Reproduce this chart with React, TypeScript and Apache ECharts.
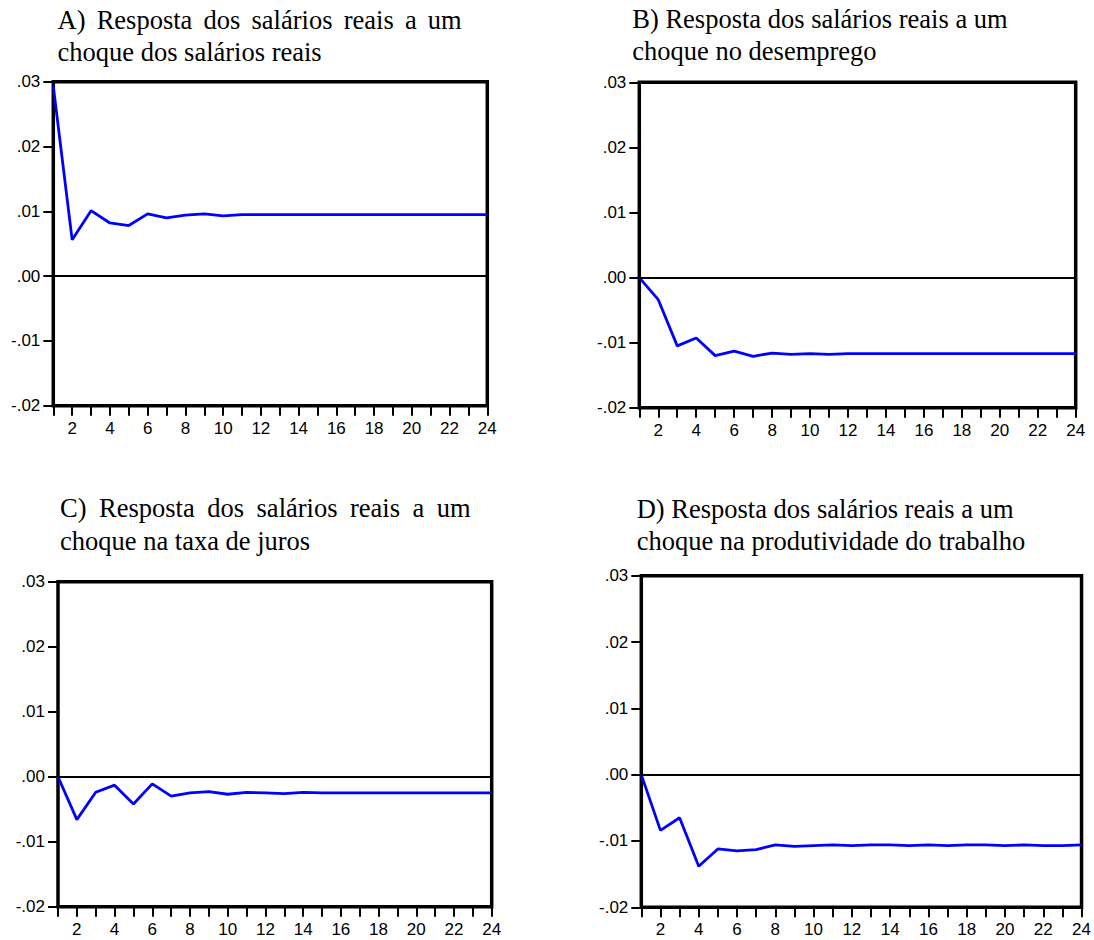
import React, { useEffect, useRef } from "react";
import * as echarts from "echarts";

const periods = [1, 2, 3, 4, 5, 6, 7, 8, 9, 10, 11, 12, 13, 14, 15, 16, 17, 18, 19, 20, 21, 22, 23, 24];

const respToWage = [
  0.0293, 0.0056, 0.0101, 0.0082, 0.0078, 0.0096, 0.009, 0.0094, 0.0096, 0.0093, 0.0095, 0.0095,
  0.0095, 0.0095, 0.0095, 0.0095, 0.0095, 0.0095, 0.0095, 0.0095, 0.0095, 0.0095, 0.0095, 0.0095,
];
const respToUnemployment = [
  0, -0.0034, -0.0105, -0.0093, -0.012, -0.0113, -0.0121, -0.0116, -0.0118, -0.0117, -0.0118, -0.0117,
  -0.0117, -0.0117, -0.0117, -0.0117, -0.0117, -0.0117, -0.0117, -0.0117, -0.0117, -0.0117, -0.0117, -0.0117,
];
const respToInterest = [
  0, -0.0066, -0.0024, -0.0013, -0.0042, -0.0011, -0.003, -0.0025, -0.0023, -0.0027, -0.0024, -0.0025,
  -0.0026, -0.0024, -0.0025, -0.0025, -0.0025, -0.0025, -0.0025, -0.0025, -0.0025, -0.0025, -0.0025, -0.0025,
];
const respToProductivity = [
  0, -0.0084, -0.0065, -0.0138, -0.0112, -0.0115, -0.0113, -0.0106, -0.0108, -0.0107, -0.0106, -0.0107,
  -0.0106, -0.0106, -0.0107, -0.0106, -0.0107, -0.0106, -0.0106, -0.0107, -0.0106, -0.0107, -0.0107, -0.0106,
];

const yMin = -0.02;
const yMax = 0.03;
const yStep = 0.01;

const titleLines = [
  ["A) Resposta dos salários reais a um", "choque dos salários reais"],
  ["B) Resposta dos salários reais a um", "choque no desemprego"],
  ["C) Resposta dos salários reais a um", "choque na taxa de juros"],
  ["D) Resposta dos salários reais a um", "choque na produtividade do trabalho"],
];

const seriesValues = [respToWage, respToUnemployment, respToInterest, respToProductivity];

// layout (pixels)
const panels = [
  { left: 53.3, top: 81.7, width: 434, height: 324, tx: 57.5, tEnd: 461.7, ty1: 19.5, ty2: 52, justify: true },
  { left: 639.3, top: 82.3, width: 436.4, height: 325.4, tx: 632.3, tEnd: 0, ty1: 18.5, ty2: 50.5, justify: false },
  { left: 58, top: 581.7, width: 433.7, height: 325, tx: 60, tEnd: 470.7, ty1: 508, ty2: 540.5, justify: true },
  { left: 641.3, top: 575.7, width: 441.4, height: 331.6, tx: 636.7, tEnd: 0, ty1: 508.5, ty2: 541, justify: false },
];

const TITLE_FONT = '26.5px "Liberation Serif"';
const AXIS_FONT = "Liberation Sans";

function fmtY(v: number): string {
  if (Math.abs(v) < 1e-9) return ".00";
  const s = v.toFixed(2);
  return s.replace("0.", ".");
}

export default function App() {
  const ref = useRef<HTMLDivElement>(null);
  useEffect(() => {
    if (!ref.current) return;
    const chart = echarts.init(ref.current, null, { renderer: "svg" });
    const canvas = document.createElement("canvas");
    const ctx = canvas.getContext("2d")!;
    ctx.font = TITLE_FONT;

    const graphics: any[] = [];
    titleLines.forEach((lines, i) => {
      const p = panels[i];
      const textStyle = { font: TITLE_FONT, fill: "#000", verticalAlign: "middle", align: "left" };
      if (p.justify) {
        const words = lines[0].split(" ");
        const widths = words.map((w) => ctx.measureText(w).width);
        const total = widths.reduce((a, b) => a + b, 0);
        const gap = (p.tEnd - p.tx - total) / (words.length - 1);
        let x = p.tx;
        words.forEach((w, k) => {
          graphics.push({ type: "text", x, y: p.ty1, style: { ...textStyle, text: w } });
          x += widths[k] + gap;
        });
      } else {
        graphics.push({ type: "text", x: p.tx, y: p.ty1, style: { ...textStyle, text: lines[0] } });
      }
      graphics.push({ type: "text", x: p.tx, y: p.ty2, style: { ...textStyle, text: lines[1] } });
    });

    const option: any = {
      animation: false,
      backgroundColor: "#fff",
      grid: panels.map((p) => ({
        left: p.left,
        top: p.top,
        width: p.width,
        height: p.height,
        show: true,
        borderColor: "#000",
        borderWidth: 3.5,
        backgroundColor: "transparent",
        containLabel: false,
      })),
      xAxis: panels.map((_, i) => ({
        type: "value",
        gridIndex: i,
        min: 1,
        max: 24,
        interval: 1,
        axisLine: { show: false, onZero: false },
        splitLine: { show: false },
        axisTick: { show: true, length: 10, inside: false, lineStyle: { color: "#000", width: 2 } },
        axisLabel: {
          margin: 14,
          color: "#000",
          fontFamily: AXIS_FONT,
          fontSize: 17,
          showMinLabel: true,
          showMaxLabel: true,
          formatter: (v: number) => (Math.round(v) % 2 === 0 ? String(Math.round(v)) : ""),
        },
      })),
      yAxis: panels.map((_, i) => ({
        type: "value",
        gridIndex: i,
        min: yMin,
        max: yMax,
        interval: yStep,
        axisLine: { show: false, onZero: false },
        splitLine: { show: false },
        axisTick: { show: true, length: 10, inside: false, lineStyle: { color: "#000", width: 2 } },
        axisLabel: {
          margin: 13,
          color: "#000",
          fontFamily: AXIS_FONT,
          fontSize: 17,
          formatter: (v: number) => fmtY(v),
        },
      })),
      series: seriesValues.map((vals, i) => ({
        type: "line",
        xAxisIndex: i,
        yAxisIndex: i,
        data: periods.map((p, k) => [p, vals[k]]),
        showSymbol: false,
        symbol: "none",
        lineStyle: { color: "#0000FF", width: 2.8 },
        itemStyle: { color: "#0000FF" },
        markLine: {
          silent: true,
          symbol: ["none", "none"],
          label: { show: false },
          lineStyle: { color: "#000", width: 2.2, type: "solid" },
          data: [{ yAxis: 0 }],
        },
      })),
      graphic: graphics,
    };
    chart.setOption(option);
    return () => chart.dispose();
  }, []);
  return (
    <div
      ref={ref}
      style={{ position: "fixed", left: 0, top: 0, width: 1094, height: 940, background: "#fff" }}
    />
  );
}
